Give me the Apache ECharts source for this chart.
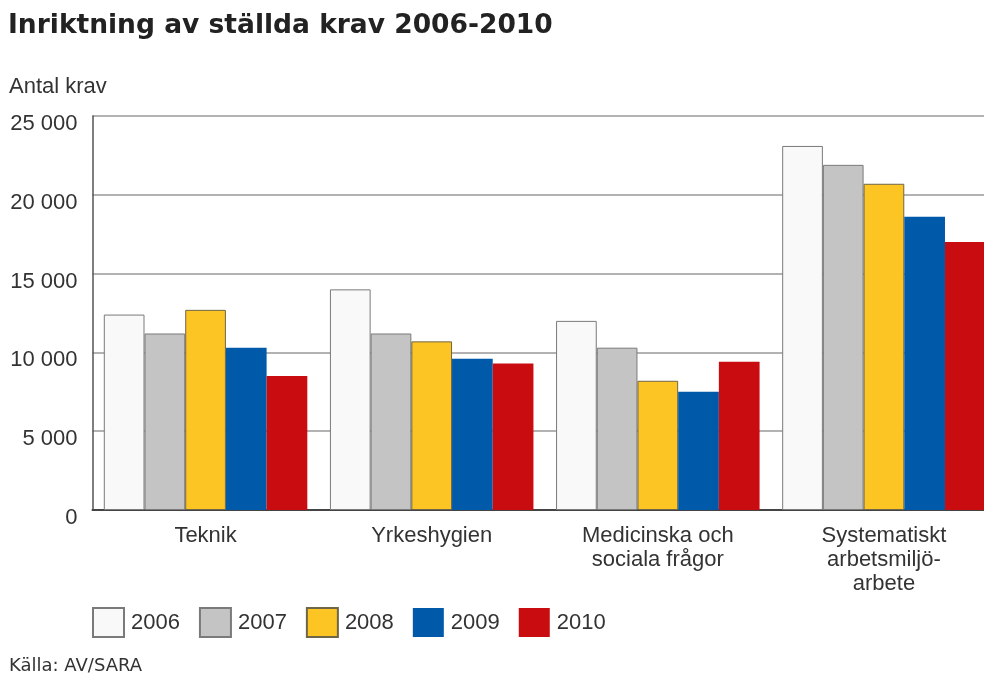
<!DOCTYPE html>
<html>
<head>
<meta charset="utf-8">
<script src="https://cdn.jsdelivr.net/npm/echarts@6/dist/echarts.min.js"></script>
<style>
html,body{margin:0;padding:0;background:#fff;overflow:hidden;width:984px;height:675px;}
#chart{width:1000px;height:675px;}
</style>
</head>
<body>
<div id="chart"></div>
<script>
var categories = ['Teknik', 'Yrkeshygien', 'Medicinska och\nsociala frågor', 'Systematiskt\narbetsmiljö-\narbete'];
var years = ['2006', '2007', '2008', '2009', '2010'];
var s2006 = [12400, 14000, 12000, 23100];
var s2007 = [11200, 11200, 10300, 21900];
var s2008 = [12700, 10700, 8200, 20700];
var s2009 = [10300, 9600, 7500, 18600];
var s2010 = [8500, 9300, 9400, 17000];
var yTickLabels = ['0', '5 000', '10 000', '15 000', '20 000', '25 000'];

var seriesData = [s2006, s2007, s2008, s2009, s2010];
var colors = ['#f9f9f9', '#c4c4c4', '#fdc523', '#005aa9', '#c90c10'];
var borders = ['#7a7a7a', '#7a7a7a', '#6f6648', '#005aa9', '#c90c10'];
var borderW = [1, 1, 1, 0, 0];

var chart = echarts.init(document.getElementById('chart'));
var series = years.map(function (y, i) {
  return {
    name: y,
    type: 'bar',
    data: seriesData[i],
    barGap: '0%',
    barCategoryGap: '10%',
    itemStyle: { color: colors[i], borderColor: borders[i], borderWidth: borderW[i] },
    emphasis: { disabled: true },
    animation: false
  };
});

chart.setOption({
  animation: false,
  title: [
    { text: 'Inriktning av ställda krav 2006-2010', left: 8, top: 13, padding: 0,
      textStyle: { fontFamily: 'DejaVu Sans', fontWeight: 'bold', fontSize: 26.5, color: '#222' } },
    { text: 'Antal krav', left: 9, top: 76, padding: 0,
      textStyle: { fontFamily: 'Liberation Sans', fontWeight: 'normal', fontSize: 22, color: '#333' } },
    { text: 'Källa: AV/SARA', left: 9, top: 657, padding: 0,
      textStyle: { fontFamily: 'DejaVu Sans', fontWeight: 'normal', fontSize: 18, color: '#333' } }
  ],
  legend: {
    left: 92, top: 607, padding: 0,
    itemWidth: 31, itemHeight: 29, itemGap: 19,
    icon: 'rect',
    textStyle: { fontFamily: 'Liberation Sans', fontSize: 22, color: '#333', padding: [0, 0, 0, 2] },
    data: years
  },
  grid: { left: 92.5, right: 3, top: 116, bottom: 165, containLabel: false },
  xAxis: {
    type: 'category',
    data: categories,
    axisTick: { show: false },
    axisLine: { lineStyle: { color: '#444', width: 2 } },
    axisLabel: { interval: 0, margin: 14, lineHeight: 24, fontFamily: 'Liberation Sans', fontSize: 22, color: '#333' }
  },
  yAxis: {
    type: 'value',
    min: 0, max: 25000, interval: 5000,
    axisLine: { show: true, lineStyle: { color: '#555', width: 1.5 } },
    axisTick: { show: false },
    splitLine: { lineStyle: { color: '#999', width: 1.5 } },
    axisLabel: {
      margin: 15, fontFamily: 'Liberation Sans', fontSize: 22, color: '#333',
      verticalAlign: 'top', lineHeight: 16,
      formatter: function (v) { return yTickLabels[Math.round(v / 5000)]; }
    }
  },
  series: series
});
</script>
</body>
</html>
